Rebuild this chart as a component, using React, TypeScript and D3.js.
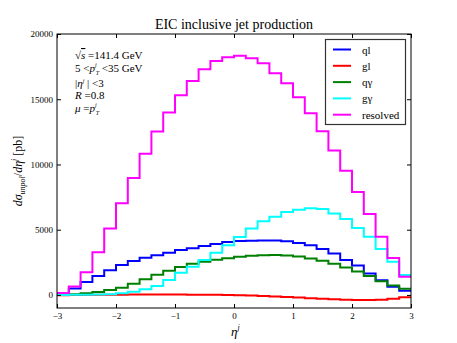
import React, { useRef, useEffect } from "react";
import * as d3 from "d3";

// lower edges of the eta bins (width 0.2)
const etaLo = [
  -3.0, -2.8, -2.6, -2.4, -2.2, -2.0, -1.8, -1.6, -1.4, -1.2, -1.0, -0.8, -0.6, -0.4, -0.2,
  0.0, 0.2, 0.4, 0.6, 0.8, 1.0, 1.2, 1.4, 1.6, 1.8, 2.0, 2.2, 2.4, 2.6, 2.8,
];
const binWidth = 0.2;

const ql = [
  130, 500, 1000, 1450, 1900, 2300, 2600, 2850, 3050, 3240, 3450, 3580, 3750, 3900, 4050,
  4130, 4160, 4170, 4170, 4120, 3980, 3800, 3530, 3180, 2680, 2250, 1650, 1130, 620, 320,
];
const gl = [
  -20, -10, 0, 10, 20, 25, 30, 35, 35, 35, 30, 25, 20, 10, 0,
  -20, -50, -80, -120, -160, -200, -250, -290, -330, -360, -380, -380, -360, -300, -180,
];
const qgamma = [
  30, 60, 130, 220, 380, 560, 850, 1200, 1550, 1850, 2150, 2400, 2550, 2700, 2820,
  2930, 3000, 3050, 3060, 3030, 2950, 2800, 2620, 2400, 2100, 1800, 1450, 1050, 720, 480,
];
const ggamma = [
  0, 10, 20, 35, 60, 128, 255, 430, 680, 1150, 1710, 2170, 2680, 3240, 3800,
  4450, 5100, 5640, 6000, 6350, 6530, 6650, 6580, 6250, 5820, 5130, 4470, 3530, 2540, 1530,
];
const resolved = [
  150, 640, 1740, 3270, 5100, 7030, 8960, 10820, 12520, 13980, 15300, 16400, 17290, 17930, 18210,
  18340, 18140, 17750, 16990, 16220, 15150, 13920, 12540, 11080, 9520, 7900, 6210, 4470, 2840, 1400,
];

const seriesNames = ["ql", "gl", "q\u03b3", "g\u03b3", "resolved"];
const seriesColors = ["#0000ff", "#ff0000", "#008000", "#00ffff", "#ff00ff"];
const seriesValues = [ql, gl, qgamma, ggamma, resolved];

const xTicks = [-3, -2, -1, 0, 1, 2, 3];
const yTicks = [0, 5000, 10000, 15000, 20000];

const W = 457;
const H = 343;
const plot = { left: 57, right: 411, top: 34, bottom: 308 };
const FONT = "'Liberation Serif', 'Times New Roman', serif";

const App = () => {
  const svgRef = useRef<SVGSVGElement>(null);

  useEffect(() => {
    const svg = d3.select(svgRef.current);
    svg.selectAll("*").remove();

    const x = d3.scaleLinear().domain([-3, 3]).range([plot.left, plot.right]);
    const y = d3.scaleLinear().domain([-1000, 20000]).range([plot.bottom, plot.top]);

    svg.append("rect").attr("width", W).attr("height", H).attr("fill", "#fff");

    // curves
    const line = d3
      .line<[number, number]>()
      .curve(d3.curveStepAfter)
      .x((d) => x(d[0]))
      .y((d) => y(d[1]));

    seriesValues.forEach((vals, i) => {
      const pts: [number, number][] = etaLo.map((e, k) => [e, vals[k]]);
      pts.push([etaLo[etaLo.length - 1] + binWidth, vals[vals.length - 1]]);
      svg
        .append("path")
        .datum(pts)
        .attr("fill", "none")
        .attr("stroke", seriesColors[i])
        .attr("stroke-width", 2)
        .attr("d", line);
    });

    // axes with inward ticks
    const styleAxis = (g) => {
      g.select(".domain").remove();
      g.selectAll("text").attr("font-family", FONT).attr("font-size", 9).attr("fill", "#000");
      g.selectAll("line").attr("stroke", "#000");
    };
    svg
      .append("g")
      .attr("transform", `translate(0,${plot.bottom})`)
      .call(d3.axisBottom(x).tickValues(xTicks).tickSize(-4).tickPadding(5).tickFormat(d3.format("d")))
      .call(styleAxis);
    svg
      .append("g")
      .attr("transform", `translate(0,${plot.top})`)
      .call(d3.axisTop(x).tickValues(xTicks).tickSize(-4).tickFormat(() => ""))
      .call(styleAxis);
    svg
      .append("g")
      .attr("transform", `translate(${plot.left},0)`)
      .call(d3.axisLeft(y).tickValues(yTicks).tickSize(-4).tickPadding(4).tickFormat(d3.format("d")))
      .call(styleAxis);
    svg
      .append("g")
      .attr("transform", `translate(${plot.right},0)`)
      .call(d3.axisRight(y).tickValues(yTicks).tickSize(-4).tickFormat(() => ""))
      .call(styleAxis);

    svg
      .append("rect")
      .attr("x", plot.left)
      .attr("y", plot.top)
      .attr("width", plot.right - plot.left)
      .attr("height", plot.bottom - plot.top)
      .attr("fill", "none")
      .attr("stroke", "#000")
      .attr("stroke-width", 1);

    // title
    svg
      .append("text")
      .attr("x", (plot.left + plot.right) / 2)
      .attr("y", 29)
      .attr("text-anchor", "middle")
      .attr("font-family", FONT)
      .attr("font-size", 14)
      .text("EIC inclusive jet production");

    // x label
    const xl = svg
      .append("text")
      .attr("x", (plot.left + plot.right) / 2 - 3)
      .attr("y", 336)
      .attr("font-family", FONT)
      .attr("font-size", 13)
      .attr("font-style", "italic");
    xl.append("tspan").text("\u03b7");
    xl.append("tspan").attr("font-size", 8).attr("dy", -6).text("j");

    // y label
    const yl = svg
      .append("text")
      .attr("transform", `translate(22,${(plot.top + plot.bottom) / 2}) rotate(-90)`)
      .attr("text-anchor", "middle")
      .attr("font-family", FONT)
      .attr("font-size", 12);
    yl.append("tspan").attr("font-style", "italic").text("d\u03c3");
    yl.append("tspan").attr("font-style", "italic").attr("font-size", 8).attr("dy", 3).text("unpol");
    yl.append("tspan").attr("dy", -3).text("/");
    yl.append("tspan").attr("font-style", "italic").text("d\u03b7");
    yl.append("tspan").attr("font-style", "italic").attr("font-size", 8).attr("dy", -5).text("j");
    yl.append("tspan").attr("dy", 5).text("  [pb]");

    // annotation
    const ax = 75;
    const fs = 11;
    const ann = svg.append("g").attr("font-family", FONT).attr("font-size", fs);
    const l1 = ann.append("text").attr("x", ax).attr("y", 59);
    l1.append("tspan").text("\u221a");
    l1.append("tspan").attr("font-style", "italic").attr("text-decoration", "overline").text("s");
    l1.append("tspan").text(" =141.4 GeV");

    const l2 = ann.append("text").attr("x", ax).attr("y", 72);
    l2.append("tspan").text("5 <");
    l2.append("tspan").attr("font-style", "italic").text("p");
    l2.append("tspan").attr("font-style", "italic").attr("font-size", 6).attr("dy", -5).text("j");
    l2.append("tspan").attr("font-style", "italic").attr("font-size", 6).attr("dx", -1).attr("dy", 8).text("T");
    l2.append("tspan").attr("dy", -3).text(" <35 GeV");

    const l3 = ann.append("text").attr("x", ax).attr("y", 87);
    l3.append("tspan").text("|");
    l3.append("tspan").attr("font-style", "italic").text("\u03b7");
    l3.append("tspan").attr("font-style", "italic").attr("font-size", 6).attr("dy", -4).text("j");
    l3.append("tspan").attr("dy", 4).text(" | <3");

    const l4 = ann.append("text").attr("x", ax).attr("y", 99);
    l4.append("tspan").attr("font-style", "italic").text("R");
    l4.append("tspan").text(" =0.8");

    const l5 = ann.append("text").attr("x", ax).attr("y", 112);
    l5.append("tspan").attr("font-style", "italic").text("\u03bc");
    l5.append("tspan").text(" =");
    l5.append("tspan").attr("font-style", "italic").text("p");
    l5.append("tspan").attr("font-style", "italic").attr("font-size", 6).attr("dy", -5).text("j");
    l5.append("tspan").attr("font-style", "italic").attr("font-size", 6).attr("dx", -1).attr("dy", 8).text("T");

    // legend
    const lg = svg.append("g");
    lg.append("rect")
      .attr("x", 325.5)
      .attr("y", 39.5)
      .attr("width", 80)
      .attr("height", 85)
      .attr("fill", "#fff")
      .attr("stroke", "#333")
      .attr("stroke-width", 1.2);
    seriesNames.forEach((name, i) => {
      const ry = 49.5 + i * 16.3;
      lg.append("line")
        .attr("x1", 333)
        .attr("x2", 351)
        .attr("y1", ry)
        .attr("y2", ry)
        .attr("stroke", seriesColors[i])
        .attr("stroke-width", 2);
      lg.append("text")
        .attr("x", 362)
        .attr("y", ry + 4)
        .attr("font-family", FONT)
        .attr("font-size", 11)
        .text(name);
    });
  }, []);

  return (
    <svg
      ref={svgRef}
      width={W}
      height={H}
      style={{ position: "absolute", left: 0, top: 0 }}
    />
  );
};

export default App;
